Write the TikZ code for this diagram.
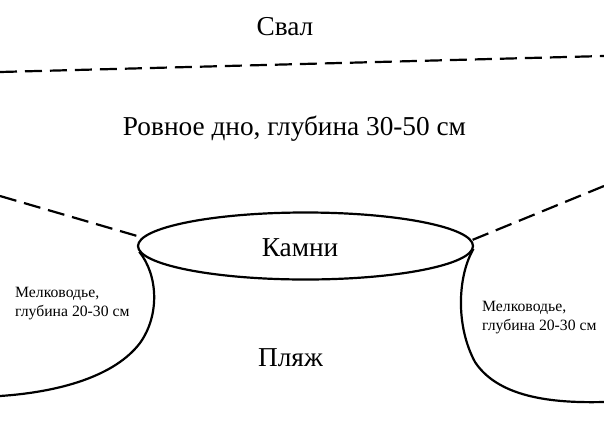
\documentclass[tikz,border=0pt]{standalone}
\usepackage{fontspec}
\setmainfont{Liberation Serif}
\usetikzlibrary{shapes.geometric}
\begin{document}
\begin{tikzpicture}[x=1pt,y=-1pt,
  bigtxt/.style={font=\fontsize{27.3}{31}\selectfont, inner sep=0pt, anchor=base},
  smalltxt/.style={font=\fontsize{15.7}{19}\selectfont, inner sep=0pt, align=left, anchor=west},
  edge/.style={line width=2.2pt},
  dashedge/.style={line width=2.2pt, dash pattern=on 17pt off 8pt}]
\useasboundingbox (0,0) rectangle (604,445);
\node[bigtxt] (sval) at (285,35) {Свал};
\node[bigtxt] (flat) at (294.5,135) {Ровное дно, глубина 30-50 см};
\node[draw, line width=2.2pt, ellipse, minimum width=335pt, minimum height=67pt, inner sep=0pt] (stones) at (305.5,246) {};
\node[bigtxt] (stonestxt) at (300,256) {Камни};
\node[bigtxt] (beach) at (290.5,366) {Пляж};
\node[smalltxt] (shallowL) at (15,304) {Мелководье,\\глубина 20-30 см};
\node[smalltxt] (shallowR) at (482,318) {Мелководье,\\глубина 20-30 см};
\coordinate (topL) at (0,72);
\coordinate (topR) at (604,56);
\coordinate (dL) at (0,196);
\coordinate (dR) at (604,186);
\coordinate (cL) at (0,396);
\coordinate (cR) at (604,402);
\draw[dashedge] (topL) -- (topR);
\draw[dashedge] (dL) -- (stones.177);
\draw[dashedge] (dR) -- (stones.2);
\draw[edge] (stones.182) .. controls (158,275) and (160,315) .. (140,343) .. controls (115,376) and (60,392) .. (cL);
\draw[edge] (stones.-1) .. controls (458,275) and (455,325) .. (475,362) .. controls (500,400) and (560,403) .. (cR);
\end{tikzpicture}
\end{document}
